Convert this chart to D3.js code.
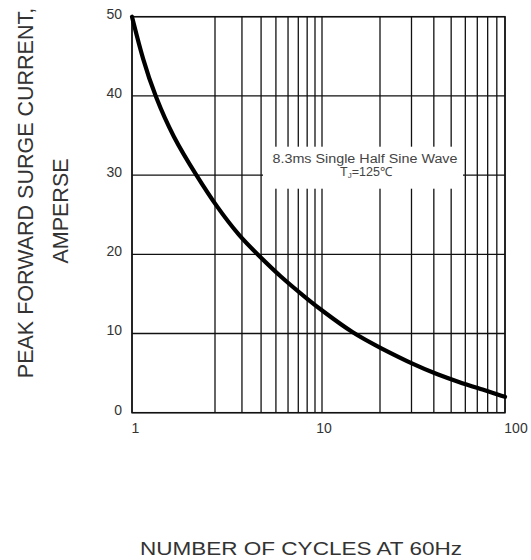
<!DOCTYPE html>
<html>
<head>
<meta charset="utf-8">
<script src="https://cdn.jsdelivr.net/npm/d3@7"></script>
<style>
  body { margin: 0; background: #fff; }
  svg text { font-family: "Liberation Sans", Arial, sans-serif; fill: #333; }
</style>
</head>
<body>
<div id="chart"></div>
<script>
// Peak forward surge current vs number of cycles (log x)

const cycles  = [1, 1.096, 1.212, 1.408, 1.717, 2.05, 2.91, 3.75, 5.32, 8.33, 10, 14.5, 20, 31.4, 42.2, 54.6, 75.4, 100];
const current = [50, 44.5, 40, 34.8, 29.9, 26.0, 22.2, 20.1, 17.2, 14.1, 12.9, 10.0, 8.2, 6.0, 4.8, 3.9, 2.9, 2.0];

const xTicks = [1, 10, 100];
const xGrid = [1, 2, 3, 4, 5, 6, 7, 8, 9, 10, 20, 30, 40, 50, 60, 70, 80, 90, 100];
const yTicks = [0, 10, 20, 30, 40, 50];

const noteLine1 = '8.3ms Single Half Sine Wave';
const yTitle = ['PEAK FORWARD SURGE CURRENT,', 'AMPERSE'];
const xTitle = 'NUMBER  OF  CYCLES AT 60Hz';

const W = 531, H = 560;
const margin = {top: 16.7, left: 132};
const width = 373, height = 396;

const svg = d3.select('#chart').append('svg')
	.attr('width', W)
	.attr('height', H);

const g = svg.append('g')
	.attr('transform', `translate(${margin.left},${margin.top})`);

// the printed log grid is hand drawn and uneven, so the scale is piecewise
const x = d3.scaleLog()
	.domain([1, 2, 10, 20, 100])
	.range([0, 83, 190, 248, width]);

const y = d3.scaleLinear()
	.domain([0, 50])
	.range([height, 0]);

// grid
g.selectAll('.vgrid')
	.data(xGrid)
	.enter()
	.append('line')
	.attr('x1', d => x(d)).attr('x2', d => x(d))
	.attr('y1', 0).attr('y2', height)
	.attr('stroke', '#111')
	.attr('stroke-width', 1.3);

g.selectAll('.hgrid')
	.data(yTicks)
	.enter()
	.append('line')
	.attr('x1', 0).attr('x2', width)
	.attr('y1', d => y(d)).attr('y2', d => y(d))
	.attr('stroke', '#111')
	.attr('stroke-width', 1.3);

// white box behind the note
g.append('rect')
	.attr('x', 131).attr('y', 130)
	.attr('width', 200).attr('height', 42)
	.attr('fill', '#fff');

g.append('rect')
	.attr('x', 0).attr('y', 0)
	.attr('width', width).attr('height', height)
	.attr('fill', 'none')
	.attr('stroke', '#111')
	.attr('stroke-width', 1.5);

// tick labels
g.selectAll('.ylab')
	.data(yTicks)
	.enter()
	.append('text')
	.attr('x', -10)
	.attr('y', d => y(d) + 2)
	.attr('text-anchor', 'end')
	.style('font-size', '14px')
	.text(d => d);

g.selectAll('.xlab')
	.data(xTicks)
	.enter()
	.append('text')
	.attr('x', (d, i) => x(d) + [3.5, 2, 11][i])
	.attr('y', height + 20)
	.attr('text-anchor', 'middle')
	.style('font-size', '14px')
	.text(d => d);

// curve (basis smooths out reading noise)
const line = d3.line()
	.x((d, i) => x(cycles[i]))
	.y(d => y(d))
	.curve(d3.curveBasis);

g.append('path')
	.datum(current)
	.attr('d', line)
	.attr('fill', 'none')
	.attr('stroke', '#000')
	.attr('stroke-width', 4.2)
	.attr('stroke-linecap', 'round');

// note
g.append('text')
	.attr('x', 233).attr('y', 146)
	.attr('text-anchor', 'middle')
	.attr('textLength', 185)
	.attr('lengthAdjust', 'spacingAndGlyphs')
	.style('font-size', '12.5px')
	.style('fill', '#444')
	.text(noteLine1);

const note2 = g.append('text')
	.attr('x', 234).attr('y', 159)
	.attr('text-anchor', 'middle')
	.style('font-size', '12.5px')
	.style('fill', '#444');
note2.append('tspan').text('T');
note2.append('tspan').attr('dy', 2).style('font-size', '8px').text('J');
note2.append('tspan').attr('dy', -2).text('=125\u2103');

// axis titles
svg.append('text')
	.attr('transform', 'translate(32.5,193) rotate(-90)')
	.attr('text-anchor', 'middle')
	.style('font-size', '21.5px')
	.text(yTitle[0]);

svg.append('text')
	.attr('transform', 'translate(67.5,211) rotate(-90)')
	.attr('text-anchor', 'middle')
	.style('font-size', '21.5px')
	.text(yTitle[1]);

svg.append('text')
	.attr('x', 140).attr('y', 555)
	.attr('textLength', 322)
	.attr('lengthAdjust', 'spacingAndGlyphs')
	.style('font-size', '18.5px')
	.text(xTitle);
</script>
</body>
</html>
